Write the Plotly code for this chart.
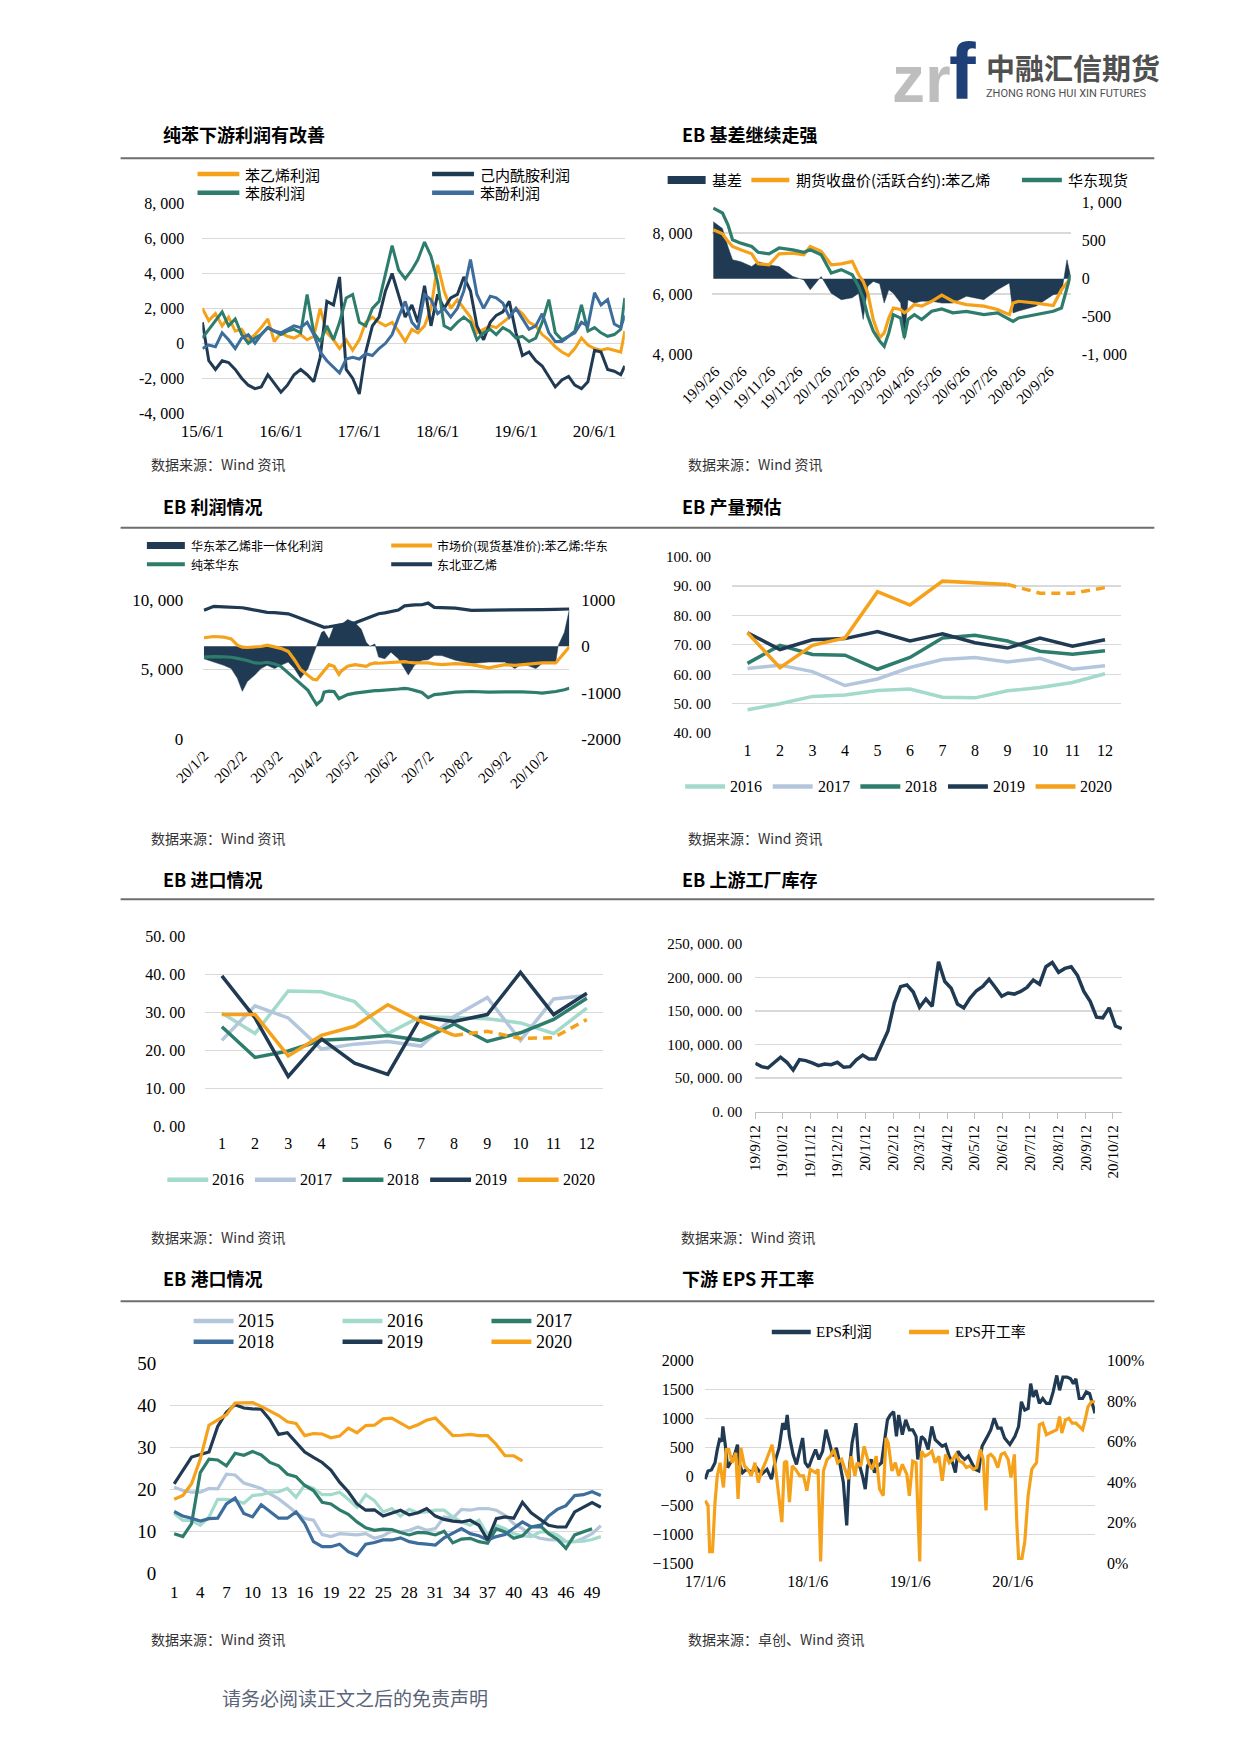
import pandas as pd
import plotly.graph_objects as go

# ---------------- colours / fonts ----------------
NAVY = "#1F3A52"
ORANGE = "#F5A11A"
GREEN = "#2E7D6C"
BLUE = "#3D6D9C"
MINT = "#A3DACB"
LBLUE = "#B3C6DC"
GRID = "#D9D9D9"
SERIF = "Liberation Serif, Noto Sans CJK SC"
CJK = "Noto Sans CJK SC"

# ---------------- chart 1 : 纯苯下游利润 (monthly readings) ----------------
c1_dates = list(pd.date_range("2015-06-01", periods=65, freq="MS")) + [pd.Timestamp("2020-10-20")]
sm_profit = [2000, 1300, 1700, 1000, 1500, 700, 800, 200, 500, 900,
             1400, 100, 600, 400, 300, 500, 200, 400, 2000, 600,
             200, -300, 200, -400, 200, 1200, 1500, 1200, 1000, 1200,
             700, 100, 800, 600, 1000, 2000, 4500, 3000, 2000, 2500,
             2000, 1500, 600, 800, 1000, 900, 1200, 1500, 2000, 1700,
             1200, 1000, 500, 200, -200, -500, -700, -300, 300, -100,
             -300, -400, -300, -400, -500, 700]
cpl_profit = [1200, -1000, -1500, -1000, -1100, -1500, -2000, -2400, -2600, -2500,
              -1800, -2300, -2800, -2400, -1800, -1500, -1800, -2200, -800, 2400,
              2200, 3800, -1500, -2000, -2900, -500, 1000, 1500, 3000, 4000,
              2800, 1500, 2200, 1200, 3300, 1000, 2800, 2000, 2600, 2800,
              3800, 3000, 1000, 200, 1200, 1600, 1800, 2400, 600, -700,
              -500, -1000, -1300, -1900, -2500, -2100, -1900, -2400, -2600, -2200,
              -400, -500, -1500, -1600, -1800, -1300]
aniline_profit = [300, 800, 1300, 1800, 1000, 1400, 500, 0, 300, 500,
                  900, 700, 500, 700, 800, 600, 2800, 600, 100, 1000,
                  200, 1200, 2600, 2800, 1200, 1000, 2000, 2400, 4000, 5600,
                  4200, 3700, 4200, 4800, 5800, 5000, 3500, 1000, 800, 1200,
                  1500, 1200, 200, 600, 800, 500, 900, 700, 300, 400,
                  100, 300, 1200, 2500, 600, 200, 400, 700, 2200, 700,
                  900, 600, 400, 500, 800, 2600]
phenol_profit = [-300, -100, -200, 600, 200, -300, 300, 500, 0, 500,
                 900, 700, 600, 800, 1000, 900, 1200, 500, -500, -1000,
                 -1400, -1700, -900, -800, -900, -600, -700, -300, 0, 500,
                 1500, 2400, 1200, 800, 2800, 2500, 1700, 2000, 1500, 2000,
                 3000, 4800, 2800, 2000, 2700, 2600, 2300, 1500, 2000, 1400,
                 800, 1000, 1700, 600, 100, 100, 400, 600, 1200, 1000,
                 2900, 2200, 2500, 1100, 900, 1600]
c1_ticks = ["2015-06-01", "2016-06-01", "2017-06-01", "2018-06-01", "2019-06-01", "2020-06-01"]
c1_ticktext = ["15/6/1", "16/6/1", "17/6/1", "18/6/1", "19/6/1", "20/6/1"]

# ---------------- chart 2 : EB 基差 ----------------
c2_start = "2019-09-26"
c2_days = [-2, 8, 14, 19, 28, 40, 47, 59, 70, 85,
           97, 104, 116, 127, 138, 150, 157, 162, 167, 173,
           180, 185, 190, 195, 203, 207, 211, 218, 226, 237,
           248, 260, 275, 294, 309, 322, 326, 332, 351, 370,
           379, 385, 389]
eb_spot = [8820, 8660, 8270, 7780, 7670, 7560, 7370, 7320, 7510, 7450,
           7370, 7450, 7290, 6690, 6800, 6630, 6250, 5870, 5270, 4780,
           4450, 4280, 4720, 5320, 5210, 4560, 5160, 5320, 5160, 5430,
           5510, 5380, 5430, 5320, 5380, 5180, 5100, 5210, 5320, 5430,
           5540, 6250, 6630]
eb_fut = [8110, 7980, 7730, 7560, 7450, 7320, 6990, 6960, 7320, 7340,
          7290, 7560, 7400, 6960, 6990, 7070, 6630, 6410, 6030, 5160,
          4560, 4720, 5210, 5540, 5490, 5380, 5460, 5650, 5600, 5760,
          5960, 5760, 5650, 5600, 5490, 5320, 5700, 5760, 5700, 5620,
          6140, 6360, 6520]
eb_basis = [750, 660, 420, 250, 225, 160, 225, 180, 160, 30,
            -15, -145, 30, -190, -275, -250, -190, -535, -100, -35,
            -65, -320, -145, -190, -320, -800, -275, -320, -295, -295,
            -320, -320, -230, -275, -145, -55, -450, -425, -360, -210,
            -190, 250, 30]
c2_ticks = ["2019-09-26", "2019-10-26", "2019-11-26", "2019-12-26", "2020-01-26", "2020-02-26",
            "2020-03-26", "2020-04-26", "2020-05-26", "2020-06-26", "2020-07-26", "2020-08-26", "2020-09-26"]
c2_ticktext = ["19/9/26", "19/10/26", "19/11/26", "19/12/26", "20/1/26", "20/2/26", "20/3/26",
               "20/4/26", "20/5/26", "20/6/26", "20/7/26", "20/8/26", "20/9/26"]

# ---------------- chart 3 : EB 利润情况 ----------------
c3_start = "2020-01-02"
c3_days = [0, 8, 16, 22, 27, 31, 35, 41, 46, 51,
           57, 62, 68, 73, 78, 84, 88, 91, 95, 97,
           101, 105, 109, 111, 116, 122, 127, 131, 134, 138,
           141, 146, 151, 157, 162, 165, 170, 176, 181, 186,
           192, 203, 216, 230, 243, 251, 257, 268, 273, 284,
           286, 291, 295]
sm_nonint_profit = [-270, -340, -410, -480, -690, -970, -760, -620, -480, -410,
                    -480, -410, -340, -480, -690, -480, -200, 0, 300, 330,
                    155, 440, 480, 470, 577, 507, 366, 85, 0, 50,
                    -230, -270, -127, -270, -480, -620, -410, -300, -290, -200,
                    -200, -300, -370, -340, -340, -480, -370, -480, -370, -340,
                    14, 300, 790]
ethylene_nea = [775, 860, 850, 845, 840, 830, 810, 780, 740, 730,
                725, 720, 700, 650, 600, 540, 500, 460, 437, 410,
                420, 440, 460, 470, 490, 505, 560, 600, 634, 680,
                700, 720, 740, 780, 870, 880, 890, 894, 930, 838,
                830, 820, 775, 775, 780, 780, 785, 790, 790, 795,
                795, 800, 803]
sm_east = [7280, 7370, 7330, 7200, 6750, 6600, 6580, 6630, 6650, 6750,
           6600, 6520, 6300, 5700, 5000, 4540, 4300, 4260, 4700, 5000,
           5350, 5230, 4650, 4900, 5230, 5350, 5300, 5230, 5380, 5470,
           5450, 5470, 5520, 5560, 5560, 5520, 5470, 5470, 5470, 5400,
           5350, 5420, 5350, 5120, 5350, 5300, 5350, 5420, 5470, 5470,
           5700, 6200, 6630]
bz_east = [5885, 5930, 5900, 5880, 5800, 5745, 5650, 5470, 5450, 5520,
           5400, 5230, 4770, 4400, 3950, 3500, 2900, 2490, 2800, 3370,
           3450, 3420, 2900, 3000, 3200, 3300, 3370, 3420, 3420, 3480,
           3480, 3500, 3520, 3600, 3650, 3620, 3500, 3350, 2980, 3200,
           3250, 3370, 3420, 3370, 3400, 3420, 3400, 3350, 3300, 3420,
           3450, 3550, 3650]
c3_ticks = ["2020-01-02", "2020-02-02", "2020-03-02", "2020-04-02", "2020-05-02",
            "2020-06-02", "2020-07-02", "2020-08-02", "2020-09-02", "2020-10-02"]
c3_ticktext = ["20/1/2", "20/2/2", "20/3/2", "20/4/2", "20/5/2", "20/6/2", "20/7/2", "20/8/2", "20/9/2", "20/10/2"]

# ---------------- chart 4 : EB 产量预估 ----------------
months = list(range(1, 13))
prod_2016 = [48.0, 50.0, 52.5, 53.0, 54.5, 55.0, 52.2, 52.0, 54.4, 55.5, 57.2, 60.2]
prod_2017 = [62.0, 63.1, 60.9, 56.2, 58.4, 62.3, 65.0, 65.7, 64.2, 65.4, 61.7, 62.9]
prod_2018 = [63.7, 69.8, 66.7, 66.5, 61.7, 65.7, 72.3, 73.2, 71.3, 67.8, 66.8, 68.0]
prod_2019 = [74.1, 68.4, 71.7, 72.1, 74.5, 71.3, 73.7, 70.7, 68.9, 72.3, 69.5, 71.7]
prod_2020 = [74.1, 62.2, 69.8, 72.3, 88.0, 83.5, 91.6, 91.1, 90.5, 87.5, 87.5, 89.4]
prod_2020_actual_n = 9  # months 1-9 actual, 9-12 forecast (dashed)

# ---------------- chart 5 : EB 进口情况 ----------------
imp_2016 = [29.9, 24.5, 35.7, 35.5, 32.9, 24.5, 29.0, 28.8, 28.4, 27.3, 24.5, 31.2]
imp_2017 = [22.7, 31.8, 28.6, 20.4, 21.7, 22.4, 21.2, 29.0, 34.0, 22.7, 33.6, 34.5]
imp_2018 = [26.3, 18.2, 19.9, 22.7, 23.2, 24.0, 22.7, 27.0, 22.4, 24.7, 28.2, 33.8]
imp_2019 = [39.7, 28.6, 13.2, 23.1, 16.7, 13.7, 28.8, 27.7, 29.5, 40.6, 29.5, 35.1]
imp_2020 = [29.5, 29.5, 18.6, 24.0, 26.4, 32.1, 27.7, 24.0, 25.1, 23.2, 23.4, 28.2]
imp_2020_actual_n = 8

# ---------------- chart 6 : EB 上游工厂库存 (weekly) ----------------
inv_dates = pd.date_range("2019-09-12", periods=59, freq="7D")
inventory = [72000, 67000, 65000, 73500, 81000, 73500, 62000, 77500, 76000, 72500,
             68500, 71000, 70000, 73500, 66000, 67000, 77000, 84300, 78400, 78400,
             100500, 120000, 161800, 186000, 188700, 178000, 155400, 167600, 156900, 223000,
             193600, 183800, 160300, 154400, 169100, 180000, 186300, 197000, 184800, 171600,
             176500, 175000, 179000, 184800, 196000, 189700, 215700, 222000, 207400, 213200,
             215700, 202500, 179000, 164200, 140700, 139700, 154400, 127500, 123500]
c6_ticks = ["2019-09-12", "2019-10-12", "2019-11-12", "2019-12-12", "2020-01-12", "2020-02-12", "2020-03-12",
            "2020-04-12", "2020-05-12", "2020-06-12", "2020-07-12", "2020-08-12", "2020-09-12", "2020-10-12"]
c6_ticktext = ["19/9/12", "19/10/12", "19/11/12", "19/12/12", "20/1/12", "20/2/12", "20/3/12",
               "20/4/12", "20/5/12", "20/6/12", "20/7/12", "20/8/12", "20/9/12", "20/10/12"]

# ---------------- chart 7 : EB 港口情况 (weekly) ----------------
port_2015 = [20.5, 19.7, 19.3, 19.3, 20.2, 20.1, 23.6, 23.4, 21.5, 20.9,
             20.2, 18.9, 17.7, 16.1, 14.4, 13.0, 12.6, 9.2, 8.7, 9.4,
             9.2, 9.1, 9.4, 8.3, 8.9, 10.0, 9.8, 10.2, 11.0, 10.2,
             10.6, 13.4, 13.1, 15.2, 15.0, 15.4, 15.4, 15.0, 13.8, 11.8,
             10.6, 9.1, 8.3, 8.0, 7.9, 7.5, 7.5, 8.3, 9.4, 11.3]
port_2016 = [14.2, 12.6, 12.6, 11.4, 13.4, 17.6, 17.6, 17.3, 16.7, 18.5,
             18.7, 19.3, 19.4, 20.2, 18.1, 21.0, 20.2, 18.7, 18.7, 19.3,
             17.6, 15.7, 18.7, 17.3, 14.6, 15.4, 13.6, 15.2, 14.4, 14.6,
             15.0, 15.0, 13.4, 12.2, 11.4, 12.6, 9.1, 11.4, 10.6, 9.4,
             8.9, 8.7, 9.8, 9.8, 9.1, 7.5, 7.5, 7.6, 8.0, 8.7]
port_2017 = [9.4, 8.7, 11.8, 24.0, 27.2, 27.0, 25.6, 28.6, 28.1, 29.0,
             28.2, 26.4, 25.6, 23.6, 23.0, 20.9, 19.7, 16.9, 16.5, 15.1,
             14.0, 12.2, 10.8, 10.2, 10.5, 10.4, 9.7, 9.1, 9.7, 9.6,
             9.1, 10.0, 7.2, 8.1, 8.3, 7.5, 7.1, 10.6, 9.8, 8.3,
             8.9, 11.0, 11.4, 9.4, 8.1, 5.9, 9.1, 9.8, 10.6]
port_2018 = [14.7, 13.6, 13.1, 12.4, 13.0, 13.1, 16.5, 17.9, 14.2, 13.4,
             16.3, 14.6, 13.1, 13.1, 14.6, 11.8, 7.5, 6.3, 6.3, 6.9,
             5.1, 4.2, 6.9, 7.3, 7.9, 7.9, 8.4, 7.5, 7.1, 6.9,
             6.7, 8.4, 9.4, 10.6, 9.4, 8.9, 7.9, 8.7, 9.2, 10.6,
             12.2, 11.0, 11.0, 13.6, 15.2, 16.1, 18.5, 18.7, 19.4, 18.5]
port_2019 = [21.3, 24.4, 27.7, 28.3, 28.9, 35.0, 38.4, 40.2, 39.4, 39.2,
             39.1, 36.6, 33.1, 33.5, 31.1, 28.9, 27.6, 26.4, 24.6, 21.7,
             19.4, 16.5, 15.0, 15.1, 13.6, 14.2, 15.0, 13.9, 14.4, 15.4,
             13.6, 12.8, 12.4, 12.2, 12.6, 11.4, 7.9, 13.0, 13.4, 13.1,
             16.9, 14.4, 12.8, 11.4, 11.0, 11.0, 14.6, 15.7, 16.8, 15.7]
port_2020 = [17.6, 18.5, 21.3, 27.2, 35.3, 36.6, 37.8, 40.6, 40.6, 40.7,
             39.8, 38.6, 37.6, 36.1, 35.7, 32.8, 33.3, 33.2, 32.3, 32.7,
             34.6, 33.5, 35.2, 35.3, 36.8, 37.0, 35.8, 34.6, 35.4, 36.5,
             37.0, 35.0, 32.8, 32.9, 33.1, 32.8, 32.8, 30.7, 28.0, 28.0,
             26.8]
week_ticks = [1, 4, 7, 10, 13, 16, 19, 22, 25, 28, 31, 34, 37, 40, 43, 46, 49]

# ---------------- chart 8 : 下游 EPS ----------------
c8_start = "2017-01-06"
eps_profit_days = [0, 10, 22, 35, 43, 51, 59, 63, 72, 80,
                   90, 103, 115, 122, 133, 146, 164, 183, 201, 220,
                   236, 251, 263, 276, 285, 292, 300, 313, 325, 337,
                   347, 356, 368, 381, 393, 405, 418, 430, 442, 455,
                   467, 479, 492, 504, 513, 523, 537, 547, 560, 570,
                   578, 591, 603, 615, 628, 640, 649, 659, 671, 681,
                   689, 702, 714, 727, 739, 751, 757, 770, 782, 794,
                   807, 819, 832, 844, 856, 869, 881, 891, 900, 912,
                   924, 937, 949, 961, 974, 986, 1005, 1017, 1029, 1042,
                   1054, 1066, 1085, 1103, 1116, 1126, 1138, 1150, 1159, 1168,
                   1178, 1190, 1202, 1215, 1227, 1239, 1252, 1262, 1274, 1289,
                   1301, 1311, 1320, 1332, 1344, 1357, 1369, 1378, 1388]
eps_profit = [-49, 94, 111, 236, 463, 634, 606, 862, 520, 150,
              236, 350, 549, 207, 65, 122, 76, 150, 37, 122,
              -49, 293, 492, 919, 805, 1061, 691, 378, 207, 463,
              663, 236, 150, 321, 463, 293, 435, 805, 577, 350,
              492, 236, -106, -846, 122, 577, 919, 236, 8, -220,
              179, 293, 65, 179, 236, 691, 976, 1061, 1118, 691,
              1061, 720, 976, 805, 805, 691, 293, 691, 634, 463,
              862, 634, 577, 520, 549, 350, 236, 65, 435, 350,
              293, 350, 236, 122, 94, 520, 691, 805, 1004, 833,
              833, 663, 549, 691, 862, 1289, 1146, 1175, 1602, 1374,
              1488, 1260, 1346, 1260, 1260, 1459, 1744, 1488, 1715, 1715,
              1687, 1602, 1687, 1346, 1346, 1459, 1431, 1289, 1090]
eps_rate_days = [0, 10, 16, 26, 35, 43, 53, 65, 75, 84,
                 96, 109, 117, 127, 140, 152, 164, 177, 189, 201,
                 214, 226, 238, 251, 263, 273, 282, 290, 300, 310,
                 322, 337, 350, 362, 374, 393, 402, 411, 421, 434,
                 446, 458, 471, 486, 498, 510, 520, 533, 541, 554,
                 566, 582, 594, 609, 621, 634, 644, 652, 665, 677,
                 689, 702, 718, 727, 739, 751, 764, 770, 782, 794,
                 807, 819, 832, 844, 856, 869, 881, 893, 906, 918,
                 930, 943, 955, 967, 980, 990, 1000, 1007, 1017, 1029,
                 1042, 1054, 1066, 1079, 1089, 1101, 1110, 1116, 1128, 1138,
                 1150, 1163, 1171, 1180, 1190, 1202, 1215, 1227, 1239, 1252,
                 1262, 1270, 1283, 1295, 1307, 1320, 1332, 1344, 1353, 1363,
                 1375, 1388]
eps_rate = [30.9, 28.5, 5.7, 5.7, 30.1, 43.1, 49.6, 37.4, 56.1, 56.1,
            49.6, 54.5, 31.7, 56.9, 48.0, 46.3, 43.1, 49.6, 39.8, 45.5,
            49.6, 53.7, 58.5, 46.3, 33.3, 20.3, 49.6, 50.4, 30.1, 48.0,
            46.3, 43.1, 43.1, 35.8, 46.3, 44.7, 46.3, 0.8, 45.5, 51.2,
            52.8, 56.1, 49.6, 51.2, 46.3, 41.5, 52.8, 43.1, 49.6, 48.0,
            57.7, 49.6, 46.3, 52.8, 36.6, 33.3, 61.8, 59.3, 45.5, 49.6,
            43.1, 48.8, 43.9, 33.3, 50.4, 49.6, 0.8, 55.3, 52.8, 53.7,
            55.3, 49.6, 52.8, 40.7, 53.7, 49.6, 51.2, 53.7, 50.4, 49.6,
            47.2, 48.0, 46.3, 47.2, 56.1, 51.2, 26.0, 52.8, 53.7, 52.0,
            47.2, 53.7, 54.5, 51.2, 42.3, 53.7, 18.7, 2.4, 2.4, 10.6,
            33.3, 46.3, 48.0, 49.6, 68.3, 69.1, 63.4, 64.2, 65.0, 65.9,
            72.4, 64.2, 70.7, 71.5, 69.1, 69.1, 67.5, 65.9, 70.7, 77.2,
            79.7, 79.7]
c8_ticks = ["2017-01-06", "2018-01-06", "2019-01-06", "2020-01-06"]
c8_ticktext = ["17/1/6", "18/1/6", "19/1/6", "20/1/6"]


def to_dates(start, days):
    return pd.Timestamp(start) + pd.to_timedelta(days, unit="D")


# ---------------- page geometry helpers ----------------
W, H = 1240, 1754


def PX(v):
    return v / W


def PY(v):
    return 1 - v / H


fig = go.Figure()


def line(x, y, color, xa, ya, width=3.0, dash=None):
    fig.add_trace(go.Scatter(x=x, y=y, mode="lines", xaxis=xa, yaxis=ya, showlegend=False,
                             line=dict(color=color, width=width, dash=dash), hoverinfo="skip"))


# chart 1
line(c1_dates, sm_profit, ORANGE, "x", "y")
line(c1_dates, cpl_profit, NAVY, "x", "y")
line(c1_dates, aniline_profit, GREEN, "x", "y")
line(c1_dates, phenol_profit, BLUE, "x", "y")

# chart 2
d2 = to_dates(c2_start, c2_days)
fig.add_trace(go.Scatter(x=d2, y=eb_basis, mode="lines", fill="tozeroy", fillcolor=NAVY,
                         line=dict(color=NAVY, width=0.5), xaxis="x2", yaxis="y2", showlegend=False,
                         hoverinfo="skip"))
line(d2, eb_fut, ORANGE, "x2", "y3", 3.2)
line(d2, eb_spot, GREEN, "x2", "y3", 3.2)

# chart 3
d3 = to_dates(c3_start, c3_days)
fig.add_trace(go.Scatter(x=d3, y=sm_nonint_profit, mode="lines", fill="tozeroy", fillcolor=NAVY,
                         line=dict(color=NAVY, width=0.5), xaxis="x3", yaxis="y4", showlegend=False,
                         hoverinfo="skip"))
line(d3, ethylene_nea, NAVY, "x3", "y4", 3.2)
line(d3, sm_east, ORANGE, "x3", "y5", 3.2)
line(d3, bz_east, GREEN, "x3", "y5", 3.2)

# chart 4
line(months, prod_2016, MINT, "x4", "y6", 3.5)
line(months, prod_2017, LBLUE, "x4", "y6", 3.5)
line(months, prod_2018, GREEN, "x4", "y6", 3.5)
line(months, prod_2019, NAVY, "x4", "y6", 3.5)
n = prod_2020_actual_n
line(months[:n], prod_2020[:n], ORANGE, "x4", "y6", 3.5)
line(months[n - 1:], prod_2020[n - 1:], ORANGE, "x4", "y6", 3.5, "9px,6px")

# chart 5
line(months, imp_2016, MINT, "x5", "y7", 3.5)
line(months, imp_2017, LBLUE, "x5", "y7", 3.5)
line(months, imp_2018, GREEN, "x5", "y7", 3.5)
line(months, imp_2019, NAVY, "x5", "y7", 3.5)
n = imp_2020_actual_n
line(months[:n], imp_2020[:n], ORANGE, "x5", "y7", 3.5)
line(months[n - 1:], imp_2020[n - 1:], ORANGE, "x5", "y7", 3.5, "9px,6px")

# chart 6
line(inv_dates, inventory, NAVY, "x6", "y8", 3.5)

# chart 7
for arr, col in [(port_2015, LBLUE), (port_2016, MINT), (port_2017, GREEN),
                 (port_2018, BLUE), (port_2019, NAVY), (port_2020, ORANGE)]:
    line(list(range(1, len(arr) + 1)), arr, col, "x7", "y9", 3.2)

# chart 8
line(to_dates(c8_start, eps_profit_days), eps_profit, NAVY, "x8", "y10", 3.2)
line(to_dates(c8_start, eps_rate_days), eps_rate, ORANGE, "x8", "y11", 3.2)


# ---------------- axes ----------------
def xax(x0, x1, anchor, size=16, **kw):
    d = dict(domain=[PX(x0), PX(x1)], anchor=anchor, showgrid=False, zeroline=False, showline=False,
             ticks="", tickfont=dict(family=SERIF, size=size, color="#000"), fixedrange=True)
    d.update(kw)
    return d


def yax(y0, y1, anchor, size=16, grid=True, **kw):
    d = dict(domain=[PY(y1), PY(y0)], anchor=anchor, showgrid=grid, gridcolor=GRID, gridwidth=1.3,
             zeroline=False, showline=False, ticks="", tickfont=dict(family=SERIF, size=size, color="#000"),
             fixedrange=True)
    d.update(kw)
    return d


def fmt_k(v):
    s = f"{abs(v):,}".replace(",", ", ")
    return ("-" if v < 0 else "") + s


def fmt_dec(v):
    return f"{v:,}".replace(",", ", ") + ". 00"


lay = {}
# chart 1
lay["xaxis"] = xax(174, 608, "y", size=17, range=["2015-06-01", "2020-10-20"], tickvals=c1_ticks,
                   ticktext=c1_ticktext, ticklabelstandoff=6)
vals = [-4000, -2000, 0, 2000, 4000, 6000, 8000]
lay["yaxis"] = yax(196, 408, "x", range=[-4000, 8000], tickvals=vals, ticktext=[fmt_k(v) for v in vals],
                   ticklabelstandoff=17)
# chart 2
lay["xaxis2"] = xax(698, 1066, "y2", size=15, range=["2019-09-23", "2020-10-19"], tickvals=c2_ticks,
                    ticktext=c2_ticktext, tickangle=-45, ticklabelstandoff=4)
vals = [-1000, -500, 0, 500, 1000]
lay["yaxis2"] = yax(195, 349, "x2", grid=False, side="right", range=[-1000, 1000], tickvals=vals,
                    ticktext=[fmt_k(v) for v in vals], ticklabelstandoff=10)
vals = [4000, 6000, 8000]
lay["yaxis3"] = yax(195, 349, "x2", overlaying="y2", side="left", range=[4000, 9000], tickvals=vals,
                    ticktext=[fmt_k(v) for v in vals], ticklabelstandoff=19)
# chart 3
lay["xaxis3"] = xax(175, 551, "y4", size=15, range=["2020-01-01 12:00", "2020-10-23"], tickvals=c3_ticks,
                    ticktext=c3_ticktext, tickangle=-45, ticklabelstandoff=4)
vals = [-2000, -1000, 0, 1000]
lay["yaxis4"] = yax(597, 738, "x3", grid=False, side="right", range=[-2000, 1000], tickvals=vals,
                    ticktext=[str(v) for v in vals], ticklabelstandoff=11, size=17)
vals = [0, 5000, 10000]
lay["yaxis5"] = yax(597, 738, "x3", overlaying="y4", side="left", range=[0, 10000], tickvals=vals,
                    ticktext=[fmt_k(v) for v in vals], ticklabelstandoff=19, size=17)
# chart 4
lay["xaxis4"] = xax(718, 1118, "y6", size=16, range=[0.52, 12.5], tickvals=months, ticklabelstandoff=6)
vals = [40, 50, 60, 70, 80, 90, 100]
lay["yaxis6"] = yax(553, 732, "x4", size=15, range=[40, 100], tickvals=vals, ticktext=[fmt_dec(v) for v in vals],
                    ticklabelstandoff=20)
# chart 5
lay["xaxis5"] = xax(177, 586, "y7", size=16, range=[0.5, 12.5], tickvals=months, ticklabelstandoff=6)
vals = [0, 10, 20, 30, 40, 50]
lay["yaxis7"] = yax(938, 1130, "x5", size=16, range=[0, 50], tickvals=vals,
                    ticktext=[fmt_dec(v) for v in vals], ticklabelstandoff=19)
# chart 6
lay["xaxis6"] = xax(742, 1119, "y8", size=15, range=["2019-09-12", "2020-10-22 12:00"], tickvals=c6_ticks,
                    ticktext=c6_ticktext, tickangle=-90, showline=True, linecolor="#BFBFBF", linewidth=1.5,
                    ticks="outside", ticklen=6, tickcolor="#BFBFBF", tickwidth=1.2)
vals = [0, 50000, 100000, 150000, 200000, 250000]
lay["yaxis8"] = yax(945, 1115, "x6", size=15, range=[0, 250000], tickvals=vals,
                    ticktext=[fmt_dec(v) for v in vals], ticklabelstandoff=12)
# chart 7
lay["xaxis7"] = xax(141, 586, "y9", size=17, range=[0.55, 50.3], tickvals=week_ticks, ticklabelstandoff=7)
vals = [0, 10, 20, 30, 40, 50]
lay["yaxis9"] = yax(1370, 1582, "x7", size=19, range=[0, 50], tickvals=vals, ticklabelstandoff=13)
# chart 8
lay["xaxis8"] = xax(690, 1091, "y10", size=16, range=["2017-01-04", "2020-10-25"], tickvals=c8_ticks,
                    ticktext=c8_ticktext, ticklabelstandoff=7)
vals = [-1500, -1000, -500, 0, 500, 1000, 1500, 2000]
lay["yaxis10"] = yax(1367, 1572, "x8", size=16, range=[-1500, 2000], tickvals=vals, ticklabelstandoff=10)
vals = [0, 20, 40, 60, 80, 100]
lay["yaxis11"] = yax(1367, 1572, "x8", size=16, grid=False, overlaying="y10", side="right", range=[0, 100],
                     tickvals=vals, ticktext=[f"{v}%" for v in vals], ticklabelstandoff=11)

# ---------------- static page furniture ----------------
shapes = []
ann = []


def text(x, y, s, size, family=CJK, color="#000", xanchor="left", bold=False):
    ann.append(dict(x=PX(x), y=PY(y), xref="paper", yref="paper", text=f"<b>{s}</b>" if bold else s,
                    showarrow=False, xanchor=xanchor, yanchor="middle", borderpad=0,
                    font=dict(family=family, size=size, color=color)))


def swatch(x0, x1, y, color, width=4.5):
    shapes.append(dict(type="line", xref="paper", yref="paper", x0=PX(x0), x1=PX(x1), y0=PY(y), y1=PY(y),
                       line=dict(color=color, width=width)))


def rect(x0, x1, y, color, h=8):
    shapes.append(dict(type="rect", xref="paper", yref="paper", x0=PX(x0), x1=PX(x1),
                       y0=PY(y + h / 2), y1=PY(y - h / 2), fillcolor=color, line=dict(width=0)))


# rules
for ry in [150, 524, 900, 1307]:
    shapes.append(dict(type="line", xref="paper", yref="paper", x0=PX(90), x1=PX(1152), y0=PY(ry), y1=PY(ry),
                       line=dict(color="#6E6E6E", width=2)))

# titles
text(133, 126, "纯苯下游利润有改善", 18, bold=True)
text(666, 126, "EB 基差继续走强", 18, bold=True)
text(133, 502, "EB 利润情况", 18, bold=True)
text(666, 502, "EB 产量预估", 18, bold=True)
text(133, 880, "EB 进口情况", 18, bold=True)
text(666, 880, "EB 上游工厂库存", 18, bold=True)
text(133, 1283, "EB 港口情况", 18, bold=True)
text(666, 1283, "下游 EPS 开工率", 18, bold=True)

# sources
SRC = "#333333"
text(120, 460, "数据来源：Wind 资讯", 14, color=SRC)
text(672, 460, "数据来源：Wind 资讯", 14, color=SRC)
text(120, 838, "数据来源：Wind 资讯", 14, color=SRC)
text(672, 838, "数据来源：Wind 资讯", 14, color=SRC)
text(120, 1242, "数据来源：Wind 资讯", 14, color=SRC)
text(665, 1242, "数据来源：Wind 资讯", 14, color=SRC)
text(120, 1649, "数据来源：Wind 资讯", 14, color=SRC)
text(672, 1649, "数据来源：卓创、Wind 资讯", 14, color=SRC)

# legends chart 1
swatch(169, 212, 166, ORANGE); text(217, 166, "苯乙烯利润", 15)
swatch(410, 453, 166, NAVY); text(458, 166, "己内酰胺利润", 15)
swatch(169, 212, 185, GREEN); text(217, 185, "苯胺利润", 15)
swatch(410, 453, 185, BLUE); text(458, 185, "苯酚利润", 15)
# chart 2
rect(652, 691, 172, NAVY); text(697, 172, "基差", 15)
swatch(738, 777, 172, ORANGE); text(783, 172, "期货收盘价(活跃合约):苯乙烯", 15)
swatch(1016, 1057, 172, GREEN); text(1062, 172, "华东现货", 15)
# chart 3
rect(117, 156, 542, NAVY, 7); text(161, 542, "华东苯乙烯非一体化利润", 12)
swatch(368, 410, 542, ORANGE, 4); text(414, 542, "市场价(现货基准价):苯乙烯:华东", 12)
swatch(117, 156, 561, GREEN, 4); text(161, 561, "纯苯华东", 12)
swatch(368, 410, 561, NAVY, 4); text(414, 561, "东北亚乙烯", 12)
# chart 4
for i, (yr, col) in enumerate([("2016", MINT), ("2017", LBLUE), ("2018", GREEN), ("2019", NAVY), ("2020", ORANGE)]):
    x0 = 670 + 90 * i
    swatch(x0, x0 + 41, 786, col)
    text(x0 + 45, 786, yr, 16, family=SERIF)
# chart 5
for i, (yr, col) in enumerate([("2016", MINT), ("2017", LBLUE), ("2018", GREEN), ("2019", NAVY), ("2020", ORANGE)]):
    x0 = 138 + 90 * i
    swatch(x0, x0 + 42, 1184, col)
    text(x0 + 45, 1184, yr, 16, family=SERIF)
# chart 7
for i, (yr, col) in enumerate([("2015", LBLUE), ("2016", MINT), ("2017", GREEN),
                               ("2018", BLUE), ("2019", NAVY), ("2020", ORANGE)]):
    x0 = [165, 318, 471][i % 3]
    yy = 1327 if i < 3 else 1348
    swatch(x0, x0 + 41, yy, col)
    text(x0 + 45, yy, yr, 18, family=SERIF)
# chart 8
swatch(759, 799, 1338, NAVY); text(803, 1338, "EPS利润", 15, family=SERIF)
swatch(900, 941, 1338, ORANGE); text(946, 1338, "EPS开工率", 15, family=SERIF)

# logo
text(881, 70, "zr", 66, family="Liberation Sans", color="#BEBEBE", bold=True)
text(940, 62, "f", 80, family="Liberation Sans", color="#1E3F77", bold=True)
text(978, 58, "中融汇信期货", 29, color="#505050", bold=True)
text(978, 85, "ZHONG RONG HUI XIN FUTURES", 11, family="Roboto", color="#505050")

# footer
text(193, 1708, "请务必阅读正文之后的免责声明", 19, color="#5B6477")

fig.update_layout(width=W, height=H, margin=dict(l=0, r=0, t=0, b=0), autosize=False,
                  paper_bgcolor="white", plot_bgcolor="white", shapes=shapes, annotations=ann,
                  showlegend=False, **lay)

fig.write_html("out.html", config={"displayModeBar": False, "staticPlot": True},
               post_script="document.body.style.margin='0';")
